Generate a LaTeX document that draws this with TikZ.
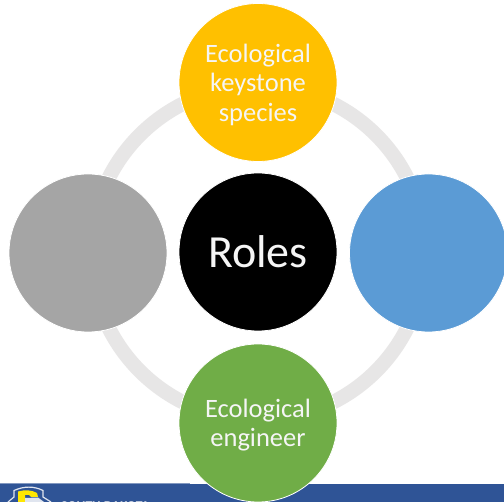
\documentclass[tikz,border=0pt]{standalone}
\usepackage{fontspec}
\setmainfont{Carlito}
\tikzset{
  x=1pt,y=-1pt,
  disc/.style={circle,draw=white,line width=0.8pt,minimum size=158pt,inner sep=0pt,align=center,text=white!96!black,font=\fontsize{26.5}{29.5}\selectfont},
}
\definecolor{ringgray}{HTML}{E7E6E6}
\definecolor{cyellow}{HTML}{FFC000}
\definecolor{cblue}{HTML}{5B9BD5}
\definecolor{cgray}{HTML}{A5A5A5}
\definecolor{cgreen}{HTML}{70AD47}
\definecolor{barblue}{HTML}{2F5496}
\begin{document}
\begin{tikzpicture}
\useasboundingbox (0,0) rectangle (504,502);
\fill[white] (0,0) rectangle (504,502);
\fill[barblue] (0,484) rectangle (504,502);
\draw[color=barblue!60!white,line width=1pt] (0,483.5) -- (190,483.5);
\begin{scope}
\clip (0,484) rectangle (504,502);
\draw[white!85!barblue,line width=1.2pt,fill=barblue] (8,502) -- (14,497) -- (14,490.5) .. controls (24,486) and (34,486) .. (43,490.5) -- (43,497) -- (51,502);
\fill[yellow!90!orange] (18,491.5) .. controls (25,489.5) and (32,490) .. (37,493) -- (38,497) -- (31,497) -- (29,495) -- (25,495) -- (25,502) -- (18,502) -- cycle;
\fill[white!85!barblue] (25,498) -- (38,497.5) -- (44,502) -- (25,502) -- cycle;
\node[anchor=base west,inner sep=0pt,text=white!85!barblue,font=\fontsize{13.5}{14}\selectfont\bfseries] (logo) at (61,511) {SOUTH DAKOTA};
\end{scope}
\draw[ringgray,line width=14.5pt] (258,253) circle[radius=167];
\node[disc,fill=black,font=\fontsize{46}{50}\selectfont] (c) at (258,252) {Roles};
\node[disc,fill=cyellow,text depth=0pt] (t) at (258,82.5) {};
\node[anchor=center,align=center,text=white!96!black,font=\fontsize{26.5}{29.5}\selectfont] (tt) at (258,84.5) {Ecological\\keystone\\species};
\node[disc,fill=cblue] (r) at (428.5,253) {};
\node[disc,fill=cgray] (l) at (88,253) {};
\node[disc,fill=cgreen] (b) at (258,423) {};
\node[anchor=center,align=center,text=white!96!black,font=\fontsize{26.5}{29.5}\selectfont] (bt) at (258,425) {Ecological\\engineer};
\end{tikzpicture}
\end{document}
